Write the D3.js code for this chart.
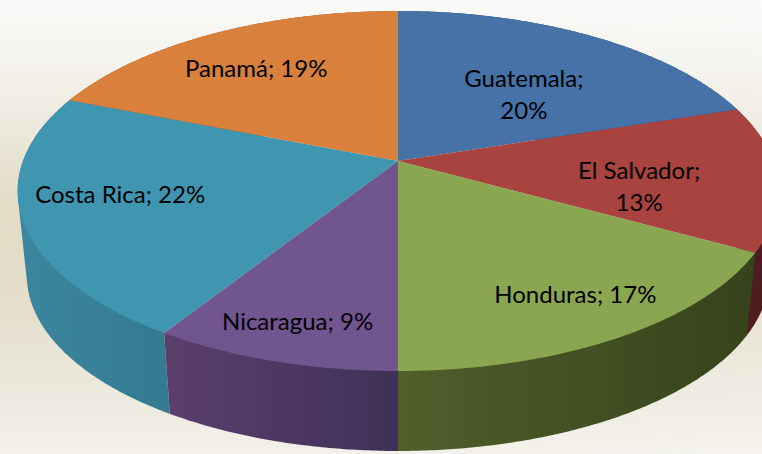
<!DOCTYPE html>
<html>
<head>
<meta charset="utf-8">
<script src="https://cdn.jsdelivr.net/npm/d3@7"></script>
<style>
    body { margin: 0; background: #fff; }
    svg { display: block; }
    text { font-family: Lato, "Open Sans", sans-serif; fill: #000; }
</style>
</head>
<body>
<div id="graph-container"></div>
<script>
const countries = ["Guatemala", "El Salvador", "Honduras", "Nicaragua", "Costa Rica", "Panamá"]
const shares = [20, 13, 17, 9, 22, 19]
const topColors = ["#4672a8", "#a84340", "#8ba650", "#71558f", "#4095b0", "#d8803c"]
const wallColorsLeft = ["#2f4d72", "#531e21", "#505f2b", "#5c3f6d", "#3b869e", "#9a5a2a"]
const wallColorsRight = ["#2f4d72", "#4b1a1e", "#36421b", "#3f3159", "#347a90", "#9a5a2a"]
const breakAfterName = [true, true, false, false, false, false]

const width = 762
const height = 454

// the pie is tilted in perspective, so the near half is drawn bigger than the far half
const cx = 398
const cy = 161
const radiusX = 375
const radiusY = 175
const tilt = 1 / 6
const wallDrop = 85
const wallShrink = 0.976

function project(angle, r = 1) {
    const u = r * Math.sin(angle)
    const v = r * Math.cos(angle)
    const w = 1 + tilt * v
    return [cx + radiusX * u / w, cy - radiusY * v / w]
}

function projectBottom(angle) {
    const [x, y] = project(angle)
    return [cx + wallShrink * (x - cx), cy + wallShrink * (y - cy) + wallDrop]
}

function rimAngles(d) {
    const step = Math.PI / 360
    return d3.range(d.startAngle, d.endAngle, step).concat([d.endAngle])
}

const svg = d3.select("#graph-container").append("svg")
    .attr("width", width)
    .attr("height", height)
    .attr("viewBox", [0, 0, width, height])

const defs = svg.append("defs")

const background = defs.append("linearGradient")
    .attr("id", "background")
    .attr("x1", 0).attr("x2", 0).attr("y1", 0).attr("y2", 1)
background.selectAll("stop")
    .data([[0, "#fafaf8"], [0.15, "#f4f2ec"], [0.45, "#e2dcc7"], [0.65, "#e3ddc9"], [0.85, "#ebe8dc"], [1, "#f3f1ea"]])
    .join("stop")
    .attr("offset", d => d[0])
    .attr("stop-color", d => d[1])

const backgroundRight = defs.append("linearGradient")
    .attr("id", "backgroundRight")
    .attr("x1", 0).attr("x2", 1).attr("y1", 0).attr("y2", 0)
backgroundRight.append("stop").attr("offset", 0.5).attr("stop-color", "#fff").attr("stop-opacity", 0)
backgroundRight.append("stop").attr("offset", 1).attr("stop-color", "#fff").attr("stop-opacity", 0.15)

svg.append("rect").attr("width", width).attr("height", height).attr("fill", "url(#background)")
svg.append("rect").attr("width", width).attr("height", height).attr("fill", "url(#backgroundRight)")

const pie = d3.pie().sort(null)
const slices = pie(shares)
const line = d3.line()

// side walls, far ones first
const wallOrder = d3.range(slices.length)
    .sort((a, b) => Math.cos((slices[b].startAngle + slices[b].endAngle) / 2) - Math.cos((slices[a].startAngle + slices[a].endAngle) / 2))

wallOrder.forEach(i => {
    const angles = rimAngles(slices[i])
    const topRim = angles.map(a => project(a))
    const bottomRim = angles.map(a => projectBottom(a))
    // the hull also closes the tangent edge on the far left
    const outline = d3.polygonHull(topRim.concat(bottomRim))
    const xs = d3.extent(outline, p => p[0])

    const gradient = defs.append("linearGradient")
        .attr("id", "wall" + i)
        .attr("gradientUnits", "userSpaceOnUse")
        .attr("x1", xs[0])
        .attr("x2", xs[1])
        .attr("y1", 0)
        .attr("y2", 0)
    gradient.append("stop").attr("offset", 0).attr("stop-color", wallColorsLeft[i])
    gradient.append("stop").attr("offset", 1).attr("stop-color", wallColorsRight[i])

    svg.append("path")
        .attr("d", line(outline) + "Z")
        .attr("fill", `url(#wall${i})`)
})

// top faces
svg.append("g")
    .selectAll("path")
    .data(slices)
    .join("path")
    .attr("d", d => line([[cx, cy]].concat(rimAngles(d).map(a => project(a)))) + "Z")
    .attr("fill", (d, i) => topColors[i])

// labels start from the slice middle, then get nudged to where the original has them
const labelNudge = [[3.5, 4.6], [15, 8], [52, 43], [-31, 57.5], [-57, 8.7], [-25, -4]]
const labelFontSize = 24
const lineGap = 32

const label = svg.append("g")
    .selectAll("text")
    .data(slices)
    .join("text")
    .attr("text-anchor", "middle")
    .attr("font-size", labelFontSize)

label.each(function (d, i) {
    const [x, y] = project((d.startAngle + d.endAngle) / 2, 0.6)
    const px = x + labelNudge[i][0]
    const py = y + labelNudge[i][1]
    const text = `${countries[i]};${breakAfterName[i] ? "\n" : " "}${d.value}%`
    text.split("\n").forEach((row, n) => {
        d3.select(this).append("tspan").attr("x", px).attr("y", py + lineGap * n).text(row)
    })
})
</script>
</body>
</html>
